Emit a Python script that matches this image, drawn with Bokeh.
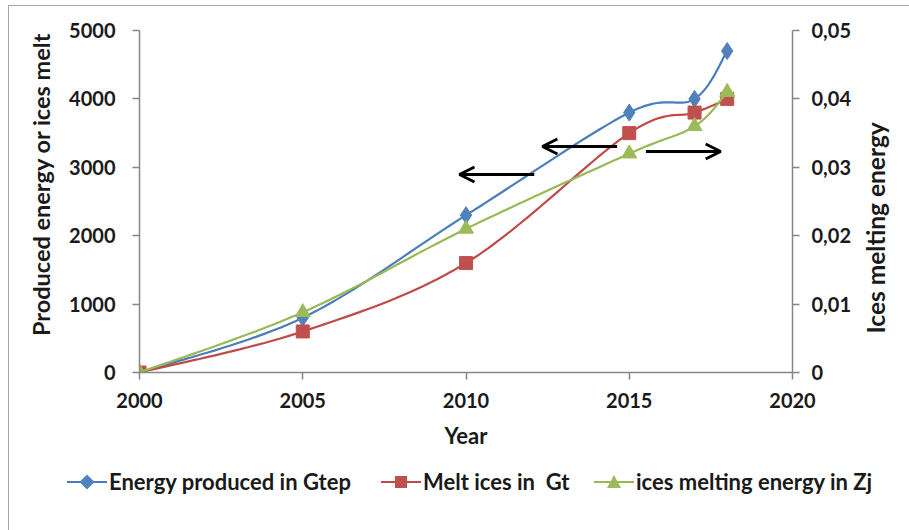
import numpy as np
from bokeh.plotting import figure
from bokeh.layouts import column
from bokeh.models import Range1d, LinearAxis, FixedTicker, Arrow, OpenHead, Div
from bokeh.embed import file_html
from bokeh.resources import INLINE

# ---------------- data ----------------
years = [2000, 2005, 2010, 2015, 2017, 2018]
energy_gtep = [0, 800, 2300, 3800, 4000, 4700]
melt_ices_gt = [0, 600, 1600, 3500, 3800, 4000]
melting_energy_zj = [0, 0.0088, 0.021, 0.032, 0.036, 0.041]

left_ticks = [0, 1000, 2000, 3000, 4000, 5000]
right_ticks = [0, 0.01, 0.02, 0.03, 0.04, 0.05]
right_tick_labels = ["0", "0,01", "0,02", "0,03", "0,04", "0,05"]
x_ticks = [2000, 2005, 2010, 2015, 2020]

series_names = ["Energy produced in Gtep", "Melt ices in  Gt", "ices melting energy in Zj"]
left_title = "Produced energy or ices melt"
right_title = "Ices melting energy"
x_title = "Year"

# annotation arrows (x_start, x_end, y) in left-axis data units
arrows = [(2012.09, 2009.80, 2895), (2014.63, 2012.34, 3304), (2015.51, 2017.80, 3231)]

FONT = "Lato"
AXIS_GRAY = "#868686"
FS = "20px"
FS_T = "22px"
TXT = "#1a1a1a"
W = 898


def smooth(xs, ys, steps=24):
    """Excel-like smoothed line: Catmull-Rom cubic Bezier through the points."""
    xs = np.asarray(xs, float)
    ys = np.asarray(ys, float)
    n = len(xs)
    ox, oy = [xs[0]], [ys[0]]
    for i in range(n - 1):
        i0 = max(i - 1, 0)
        i3 = min(i + 2, n - 1)
        p0 = np.array([xs[i], ys[i]])
        p1 = np.array([xs[i + 1], ys[i + 1]])
        c1 = p0 + (p1 - np.array([xs[i0], ys[i0]])) / 6.0
        c2 = p1 - (np.array([xs[i3], ys[i3]]) - p0) / 6.0
        for t in np.linspace(0, 1, steps)[1:]:
            b = ((1 - t) ** 3) * p0 + 3 * ((1 - t) ** 2) * t * c1 + 3 * (1 - t) * t * t * c2 + (t ** 3) * p1
            ox.append(b[0])
            oy.append(b[1])
    return ox, oy


p = figure(width=W, height=452, output_backend="svg", toolbar_location=None,
           x_range=Range1d(2000, 2020), y_range=Range1d(0, 5000),
           min_border_left=130, min_border_right=113, min_border_top=24, min_border_bottom=86)
p.extra_y_ranges = {"right": Range1d(0, 0.05)}
p.outline_line_color = None
p.grid.visible = False
p.background_fill_color = "white"
p.border_fill_color = "white"


def style_axis(ax):
    ax.axis_line_color = AXIS_GRAY
    ax.axis_line_width = 1.5
    ax.major_tick_line_color = AXIS_GRAY
    ax.major_tick_line_width = 1.5
    ax.major_tick_in = 0
    ax.major_tick_out = 7
    ax.minor_tick_line_color = None
    ax.major_label_text_font = FONT
    ax.major_label_text_font_style = "bold"
    ax.major_label_text_font_size = FS
    ax.major_label_text_color = TXT
    ax.axis_label_text_font = FONT
    ax.axis_label_text_font_style = "bold"
    ax.axis_label_text_font_size = FS_T
    ax.axis_label_text_color = TXT


def title_axis(range_name, tick, text, size, standoff):
    """Axis used only to carry a rotated (bottom-to-top) title."""
    kw = {} if range_name is None else {"y_range_name": range_name}
    ax = LinearAxis(ticker=FixedTicker(ticks=[tick]), major_label_overrides={tick: text}, **kw)
    ax.axis_line_color = None
    ax.major_tick_line_color = None
    ax.minor_tick_line_color = None
    ax.major_tick_in = 0
    ax.major_tick_out = 0
    ax.major_label_orientation = np.pi / 2
    ax.major_label_standoff = standoff
    ax.major_label_text_font = FONT
    ax.major_label_text_font_style = "bold"
    ax.major_label_text_font_size = size
    ax.major_label_text_color = TXT
    return ax


xa = p.xaxis[0]
ya = p.yaxis[0]
xa.ticker = FixedTicker(ticks=x_ticks)
ya.ticker = FixedTicker(ticks=left_ticks)
style_axis(xa)
style_axis(ya)
xa.major_label_standoff = 13
ya.major_label_standoff = 17
xa.axis_label = x_title
xa.axis_label_standoff = 11

ra = LinearAxis(y_range_name="right", ticker=FixedTicker(ticks=right_ticks),
                major_label_overrides={t: l for t, l in zip(right_ticks, right_tick_labels)})
style_axis(ra)
ra.major_label_standoff = 12
p.add_layout(ra, "right")

# titles: left reads upward and ends at its anchor; right reads upward from its anchor
p.add_layout(title_axis(None, 4970, left_title, "23.5px", 25), "left")
p.add_layout(title_axis("right", 0.0057, right_title, "24.5px", 22), "right")

# series
line_colors = ["#4A7EBB", "#BE4B48", "#98B954"]
marker_colors = ["#4F81BD", "#C0504D", "#9BBB59"]
markers = ["diamond", "square", "triangle"]
marker_sizes = [17, 13, 15]

sx, sy = smooth(years, energy_gtep)
p.line(sx, sy, line_color=line_colors[0], line_width=2.2)
p.scatter(years, energy_gtep, marker=markers[0], size=marker_sizes[0],
          fill_color=marker_colors[0], line_color=marker_colors[0])

sx, sy = smooth(years, melt_ices_gt)
p.line(sx, sy, line_color=line_colors[1], line_width=2.2)
p.scatter(years, melt_ices_gt, marker=markers[1], size=marker_sizes[1],
          fill_color=marker_colors[1], line_color=marker_colors[1])

sx, sy = smooth(years, melting_energy_zj)
p.line(sx, sy, line_color=line_colors[2], line_width=2.2, y_range_name="right")
p.scatter(years, melting_energy_zj, marker=markers[2], size=marker_sizes[2],
          fill_color=marker_colors[2], line_color=marker_colors[2], y_range_name="right")

for xs0, xe0, y0 in arrows:
    p.add_layout(Arrow(end=OpenHead(size=15, line_width=3, line_color="black"),
                       x_start=xs0, y_start=y0, x_end=xe0, y_end=y0,
                       line_width=3, line_color="black"))

# ---------------- legend strip below the chart ----------------
key_shapes = [
    '<polygon points="20,2.5 27.5,10 20,17.5 12.5,10" fill="{c}"/>',
    '<rect x="14" y="4" width="12" height="12" fill="{c}"/>',
    '<polygon points="20,3 27,16 13,16" fill="{c}"/>',
]
glyph_left = [53, 367, 580]
parts = []
for i, name in enumerate(series_names):
    gx = glyph_left[i]
    parts.append(
        f'<svg style="position:absolute;left:{gx}px;top:9px" width="40" height="20">'
        f'<line x1="0" y1="10" x2="40" y2="10" stroke="{line_colors[i]}" stroke-width="2.2"/>'
        + key_shapes[i].format(c=marker_colors[i]) + '</svg>'
        f'<span style="position:absolute;left:{gx + 42}px;top:5px;line-height:28px;'
        f'white-space:pre">{name}</span>')
legend_html = (f'<div style="position:relative;width:{W}px;height:70px;font-family:Lato;'
               f'font-weight:bold;font-size:{FS_T};color:{TXT}">' + "".join(parts) + '</div>')
legend_div = Div(text=legend_html, width=W, height=70)

layout = column(p, legend_div, spacing=0,
                styles={"border": "1px solid #a6a6a6", "margin": "5px 0px 0px 8px",
                        "background-color": "white"})
open("out.html", "w").write(file_html(layout, INLINE))
